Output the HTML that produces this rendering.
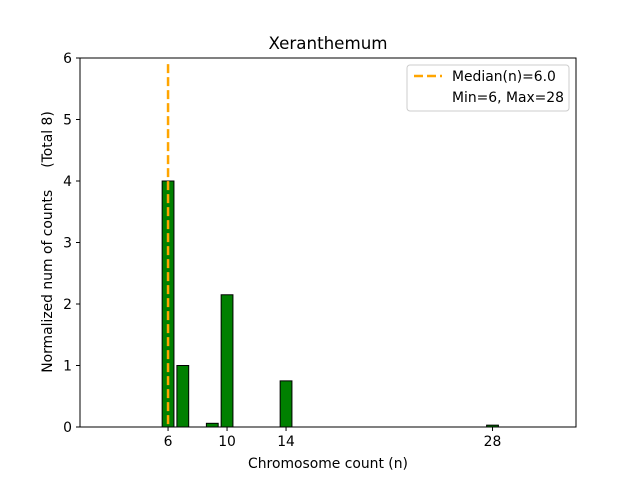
<!DOCTYPE html>
<html><head><meta charset="utf-8"><style>
body{margin:0;background:#fff;}
svg{display:block;font-family:"DejaVu Sans","Liberation Sans",sans-serif;}
text{white-space:pre;}
</style></head><body>
<svg id="c" width="640" height="480"></svg>
<script>
const categories=[6,7,9,10,14,28];
const values=[4,1,0.06,2.15,0.75,0.03];
const xTicks=[6,10,14,28];
const yTicks=[0,1,2,3,4,5,6];
const median=[6.0];
const NS="http://www.w3.org/2000/svg";
const svg=document.getElementById('c');
const L=80,R=576,T=58,B=427;
const xMin=0.03,xMax=33.66,yMin=0,yMax=6;
const X=v=>L+(v-xMin)/(xMax-xMin)*(R-L);
const Y=v=>B-(v-yMin)/(yMax-yMin)*(B-T);
function el(t,a,txt){const e=document.createElementNS(NS,t);for(const k in a)e.setAttribute(k,a[k]);if(txt!==undefined)e.textContent=txt;svg.appendChild(e);return e;}
categories.forEach((c,i)=>{
 const w=X(c+0.4)-X(c-0.4);
 const b=el('rect',{x:X(c-0.4),y:Y(values[i]),width:w,height:Y(0)-Y(values[i]),fill:'#008000',stroke:'#000','stroke-width':1});
 
 
});
const ml=el('line',{x1:X(median[0]),x2:X(median[0]),y1:Y(5.9),y2:Y(0),stroke:'#FFA500','stroke-width':2.5,'stroke-dasharray':'9,4'});


const fr=el('rect',{x:L,y:T,width:R-L,height:B-T,fill:'none',stroke:'#000','stroke-width':1});


xTicks.forEach(t=>{
 el('line',{x1:X(t),x2:X(t),y1:B,y2:B+4,stroke:'#000'});
 const tx=el('text',{x:X(t),y:B+19,'text-anchor':'middle','font-size':13.9},t);
 
 
});
yTicks.forEach(t=>{
 el('line',{x1:L-4,x2:L,y1:Y(t),y2:Y(t),stroke:'#000'});
 const tx=el('text',{x:L-8,y:Y(t)+5,'text-anchor':'end','font-size':13.9},t);
 
 
});
</script>
<script>
(function(){
const NS="http://www.w3.org/2000/svg",svg=document.getElementById('c');
function el(t,a,txt){const e=document.createElementNS(NS,t);for(const k in a)e.setAttribute(k,a[k]);if(txt!==undefined)e.textContent=txt;svg.appendChild(e);return e;}
let e=el('text',{x:328,y:49,'text-anchor':'middle','font-size':16.7},'Xeranthemum');

e=el('text',{x:328,y:468,'text-anchor':'middle','font-size':13.9},'Chromosome count (n)');

e=el('text',{x:52,y:242,'text-anchor':'middle','font-size':13.9,transform:'rotate(-90 52 242)'},'Normalized num of counts     (Total 8)');

e=el('rect',{x:407,y:65,width:162,height:46,fill:'#fff',stroke:'#ccc',rx:3});

el('line',{x1:414,x2:442,y1:76,y2:76,stroke:'#FFA500','stroke-width':2.5,'stroke-dasharray':'9,4'});
e=el('text',{x:452,y:81,'font-size':13.9},'Median(n)=6.0');

e=el('text',{x:452,y:102,'font-size':13.9},'Min=6, Max=28');

})();
</script>
</body></html>
